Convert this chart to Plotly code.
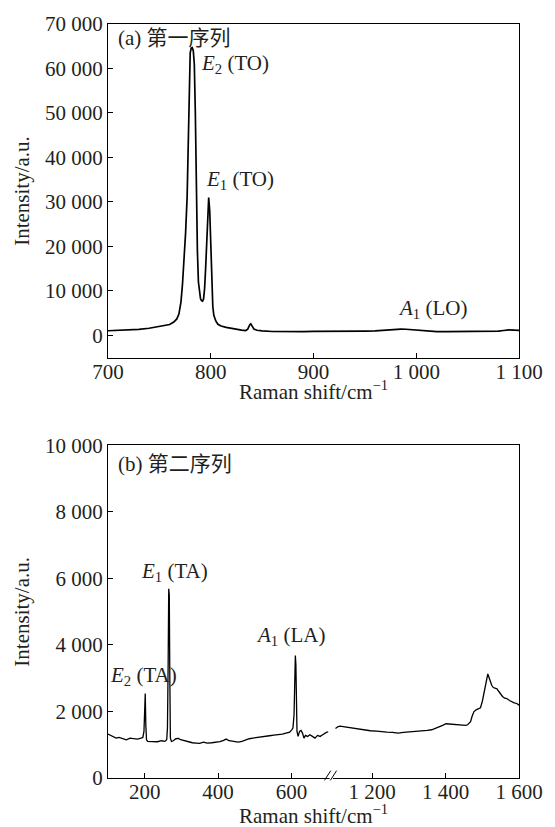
import plotly.graph_objects as go

# ---------------- data ----------------
top_x = [700, 710, 720, 730, 740, 745, 750, 755, 760, 764, 767, 769, 771, 772.5, 774, 775.5, 777, 778, 779, 780,
         781, 782, 783, 784, 785, 786, 787, 788, 789, 790, 791, 792, 793, 794, 795, 796, 797, 798, 799, 800,
         801, 802, 803, 805, 807, 810, 815, 820, 825, 830, 834, 836, 838, 839, 840, 842, 845, 850, 860, 870,
         880, 890, 900, 910, 920, 930, 940, 950, 960, 970, 975, 980, 985, 990, 995, 1000, 1005, 1010, 1020, 1030,
         1040, 1050, 1060, 1070, 1080, 1085, 1090, 1095, 1100]
top_y = [1050, 1100, 1200, 1350, 1600, 1800, 1900, 2100, 2450, 3000, 3700, 4800, 7500, 11500, 17000, 23000, 31000, 44000, 57000, 63500,
         64600, 64700, 64000, 61000, 50000, 33000, 19000, 12000, 9500, 8300, 7800, 7700, 8200, 10500, 15000, 22000, 28500, 31000, 28000, 19000,
         11000, 6500, 4500, 3200, 2500, 2100, 1800, 1550, 1350, 1200, 1100, 1400, 2400, 2600, 2200, 1400, 1150, 1000, 880, 830,
         820, 850, 900, 950, 930, 900, 950, 980, 1000, 1150, 1300, 1450, 1420, 1380, 1300, 1200, 1050, 900, 850, 830,
         820, 830, 850, 900, 950, 1100, 1250, 1200, 1150]

bl_x = [100, 108, 115, 122, 130, 140, 150, 160, 170, 180, 190, 195, 198, 200, 201.5, 203, 205, 208, 215, 225,
        235, 245, 255, 260, 262, 264, 265.5, 267, 268.5, 270, 273, 278, 285, 292, 298, 305, 312, 320, 330, 340,
        350, 360, 370, 383, 395, 405, 415, 422, 430, 440, 455, 465, 475, 485, 495, 505, 515, 528, 540, 552,
        563, 575, 585, 595, 600, 604, 607, 609, 610.5, 612, 613.5, 615, 618, 622, 626, 630, 634, 638, 644, 650,
        657, 664, 671, 678, 685, 690, 695, 700]
bl_y = [1320, 1280, 1250, 1200, 1220, 1180, 1150, 1200, 1180, 1170, 1200, 1220, 1400, 2000, 2540, 1600, 1150, 1100, 1100, 1110,
        1090, 1120, 1100, 1150, 1500, 3500, 5690, 5500, 3000, 1200, 1100, 1120, 1180, 1190, 1150, 1130, 1100, 1080, 1060, 1050,
        1040, 1080, 1050, 1060, 1080, 1090, 1130, 1170, 1120, 1100, 1080, 1100, 1150, 1180, 1200, 1220, 1230, 1260, 1270, 1290,
        1300, 1320, 1350, 1380, 1440, 1500, 1900, 3000, 3680, 3400, 2000, 1400, 1250, 1400, 1430, 1350, 1200, 1280, 1250, 1300,
        1250, 1200, 1280, 1250, 1300, 1350, 1370, 1390]

br_x = [1100, 1106, 1112, 1118, 1125, 1135, 1145, 1155, 1167, 1180, 1195, 1212, 1225, 1240, 1255, 1271, 1285, 1300, 1315, 1328,
        1338, 1350, 1362, 1373, 1383, 1392, 1401, 1410, 1420, 1430, 1440, 1448, 1455, 1460, 1465, 1468, 1472, 1477, 1483, 1490,
        1495, 1500, 1504, 1508, 1512, 1515, 1519, 1523, 1526, 1530, 1535, 1540, 1545, 1549, 1555, 1561, 1567, 1574, 1580, 1587,
        1594, 1600]
br_y = [1490, 1540, 1560, 1550, 1530, 1520, 1500, 1480, 1460, 1440, 1420, 1410, 1390, 1380, 1370, 1350, 1370, 1380, 1390, 1400,
        1410, 1430, 1450, 1490, 1530, 1580, 1630, 1620, 1600, 1610, 1590, 1580, 1580, 1600, 1640, 1690, 1850, 1990, 2050, 2090,
        2110, 2300, 2550, 2800, 3000, 3130, 3000, 2850, 2780, 2720, 2700, 2680, 2600, 2540, 2450, 2400, 2390, 2330, 2290, 2260,
        2240, 2190]

top_xticks = [700, 800, 900, 1000, 1100]
top_xticklabels = ["700", "800", "900", "1 000", "1 100"]
top_yticks = [0, 10000, 20000, 30000, 40000, 50000, 60000, 70000]
top_yticklabels = ["0", "10 000", "20 000", "30 000", "40 000", "50 000", "60 000", "70 000"]

bot_xticks_left = [200, 400, 600]
bot_xticks_right = [1200, 1400, 1600]
bot_xticklabels = ["200", "400", "600", "1 200", "1 400", "1 600"]
bot_yticks = [0, 2000, 4000, 6000, 8000, 10000]
bot_yticklabels = ["0", "2 000", "4 000", "6 000", "8 000", "10 000"]

BREAK_SHIFT = 380  # right segment 1100..1600 drawn right after 720 on the axis

FONT = "'Liberation Serif', 'Times New Roman', 'Noto Sans CJK SC', serif"
TXT = "#231f20"
FS = 21

fig = go.Figure()
fig.add_trace(go.Scatter(x=top_x, y=top_y, mode="lines", line=dict(color="black", width=1.7),
                         xaxis="x", yaxis="y", showlegend=False))
fig.add_trace(go.Scatter(x=bl_x, y=bl_y, mode="lines", line=dict(color="black", width=1.3),
                         xaxis="x2", yaxis="y2", showlegend=False))
fig.add_trace(go.Scatter(x=[v - BREAK_SHIFT for v in br_x], y=br_y, mode="lines",
                         line=dict(color="black", width=1.3), xaxis="x2", yaxis="y2", showlegend=False))

axis_common = dict(showgrid=False, zeroline=False, showline=True, linecolor="black", linewidth=1,
                   mirror=True, ticks="inside", ticklen=5, tickcolor="black",
                   tickfont=dict(family=FONT, size=FS, color=TXT))

fig.update_layout(
    width=555, height=827,
    margin=dict(l=108, r=31, t=21, b=49),
    paper_bgcolor="white", plot_bgcolor="white",
    font=dict(family=FONT, size=FS, color=TXT),
    xaxis=dict(domain=[0, 1], range=[700, 1100], anchor="y", ticklabelstandoff=-5,
               tickvals=top_xticks, ticktext=top_xticklabels, **axis_common),
    yaxis=dict(domain=[0.5575, 1], range=[-5000, 70000], anchor="x",
               tickvals=top_yticks, ticktext=top_yticklabels, **axis_common),
    xaxis2=dict(domain=[0, 1], range=[100, 1600 - BREAK_SHIFT], anchor="y2", ticklabelstandoff=-5,
                tickvals=bot_xticks_left + [v - BREAK_SHIFT for v in bot_xticks_right],
                ticktext=bot_xticklabels, **axis_common),
    yaxis2=dict(domain=[0, 0.4412], range=[0, 10000], anchor="x2",
                tickvals=bot_yticks, ticktext=bot_yticklabels, **axis_common),
)

# axis break marks on bottom x axis
fig.add_shape(type="rect", xref="x2", yref="y2 domain", x0=704, x1=713, y0=-0.02, y1=0.02,
              fillcolor="white", line=dict(width=0), layer="above")
for x0 in (690, 706):
    fig.add_shape(type="line", xref="x2", yref="y2 domain", x0=x0, x1=x0 + 17, y0=-0.007, y1=0.022,
                  line=dict(color="black", width=1), layer="above")

# axis titles
xtitle = "Raman shift/cm<sup>−1</sup>"
ytitle = "Intensity/a.u."
for xr, yr, ys in (("x domain", "y domain", -33), ("x2 domain", "y2 domain", -36)):
    fig.add_annotation(xref=xr, yref=yr, x=0.5, y=0, yshift=ys, text=xtitle, showarrow=False,
                       xanchor="center", yanchor="middle", font=dict(family=FONT, size=FS, color=TXT))
    fig.add_annotation(xref=xr, yref=yr, x=0, y=0.5, xshift=-86, text=ytitle, textangle=-90, showarrow=False,
                       xanchor="center", yanchor="middle", font=dict(family=FONT, size=FS, color=TXT))

ann = [
    ("x domain", "y domain", 0.02, 1.0, "(a) 第一序列", "left", "top"),
    ("x", "y", 789, 61000, "<i>E</i><sub>2</sub> (TO)", "left", "middle"),
    ("x", "y", 793, 34900, "<i>E</i><sub>1</sub> (TO)", "left", "middle"),
    ("x", "y", 1016, 6000, "<i>A</i><sub>1</sub> (LO)", "center", "middle"),
    ("x2 domain", "y2 domain", 0.02, 0.985, "(b) 第二序列", "left", "top"),
    ("x2", "y2", 282, 6200, "<i>E</i><sub>1</sub> (TA)", "center", "middle"),
    ("x2", "y2", 597, 4280, "<i>A</i><sub>1</sub> (LA)", "center", "middle"),
    ("x2", "y2", 196, 3080, "<i>E</i><sub>2</sub> (TA)", "center", "middle"),
]
for xr, yr, x, y, t, xa, ya in ann:
    fig.add_annotation(xref=xr, yref=yr, x=x, y=y, text=t, showarrow=False, xanchor=xa, yanchor=ya,
                       font=dict(family=FONT, size=FS, color=TXT))

fig.write_html("out.html")
